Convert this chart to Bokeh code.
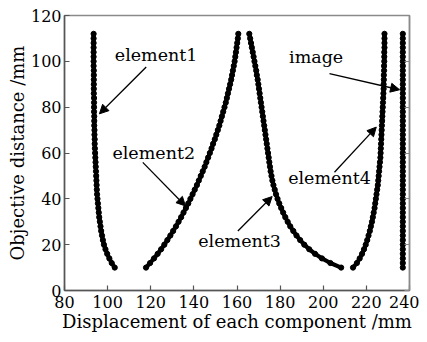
from bokeh.plotting import figure
from bokeh.models import (LinearAxis, Range1d, Arrow, NormalHead, Label,
                          FixedTicker, CustomJSTickFormatter)
from bokeh.embed import file_html
from bokeh.resources import INLINE

# ---------------- data ----------------
object_distance = [10, 12, 14, 16, 18, 20, 22, 24, 26, 28, 30, 32, 34, 36, 38, 40,
                   42, 44, 46, 48, 50, 52, 54, 56, 58, 60, 62, 64, 66, 68, 70, 72,
                   74, 76, 78, 80, 82, 84, 86, 88, 90, 92, 94, 96, 98, 100, 102,
                   104, 106, 108, 110, 112]

element1_x = [103.3, 101.9, 100.8, 99.8, 99.0, 98.3, 97.8, 97.4, 97.0, 96.7, 96.4,
              96.1, 95.9, 95.7, 95.5, 95.3, 95.1, 95.0, 94.9, 94.8, 94.7, 94.6,
              94.5, 94.4, 94.3, 94.2, 94.1, 94.0, 94.0, 93.9, 93.9, 93.8, 93.8,
              93.8, 93.7, 93.7, 93.7, 93.7, 93.6, 93.6, 93.6, 93.6, 93.6, 93.6,
              93.5, 93.5, 93.5, 93.5, 93.5, 93.5, 93.5, 93.5]

element2_x = [117.8, 119.7, 121.5, 123.2, 124.8, 126.3, 127.7, 129.1, 130.4, 131.7,
              132.9, 134.1, 135.2, 136.3, 137.4, 138.4, 139.4, 140.4, 141.4, 142.3,
              143.2, 144.1, 145.0, 145.8, 146.6, 147.4, 148.2, 148.9, 149.7, 150.4,
              151.1, 151.8, 152.4, 153.0, 153.6, 154.2, 154.8, 155.3, 155.8, 156.3,
              156.8, 157.3, 157.7, 158.1, 158.5, 158.9, 159.2, 159.5, 159.8, 160.1,
              160.4, 160.6]

element3_x = [208.3, 203.3, 199.4, 196.2, 193.5, 191.2, 189.3, 187.6, 186.1, 184.7,
              183.5, 182.4, 181.4, 180.5, 179.6, 178.8, 178.1, 177.5, 176.9, 176.4,
              176.0, 175.6, 175.3, 175.0, 174.7, 174.4, 174.1, 173.8, 173.5, 173.2,
              172.9, 172.6, 172.3, 172.0, 171.7, 171.4, 171.1, 170.8, 170.5, 170.2,
              169.9, 169.6, 169.2, 168.9, 168.5, 168.1, 167.7, 167.3, 166.9, 166.5,
              166.1, 165.7]

element4_x = [213.8, 215.6, 216.9, 218.0, 218.9, 219.7, 220.4, 221.0, 221.6, 222.1,
              222.6, 223.0, 223.4, 223.8, 224.1, 224.4, 224.7, 225.0, 225.3, 225.5,
              225.7, 225.9, 226.1, 226.3, 226.5, 226.6, 226.7, 226.8, 226.9, 227.0,
              227.1, 227.2, 227.3, 227.4, 227.5, 227.6, 227.7, 227.8, 227.9, 228.0,
              228.0, 228.1, 228.1, 228.2, 228.2, 228.3, 228.3, 228.3, 228.4, 228.4,
              228.4, 228.4]

image_x = [236.9, 236.9, 236.9, 236.9, 236.9, 236.9, 236.9, 236.9, 236.9, 236.9,
           236.9, 236.9, 236.9, 236.9, 236.9, 236.9, 236.9, 236.9, 236.9, 236.9,
           236.9, 236.9, 236.9, 236.9, 236.9, 236.9, 236.9, 236.9, 236.9, 236.9,
           236.9, 236.9, 236.9, 236.9, 236.9, 236.9, 236.9, 236.9, 236.9, 236.9,
           236.9, 236.9, 236.9, 236.9, 236.9, 236.9, 236.9, 236.9, 236.9, 236.9,
           236.9, 236.9]

x_ticks = [80, 100, 120, 140, 160, 180, 200, 220, 240]
y_ticks = [0, 20, 40, 60, 80, 100, 120]

FONT = "DejaVu Serif"

p = figure(width=419, height=334, x_range=Range1d(80, 240), y_range=Range1d(0, 120),
           output_backend="svg", toolbar_location=None,
           min_border_left=64, min_border_right=10, min_border_top=15,
           min_border_bottom=44)
p.grid.visible = False
p.outline_line_color = "#8a8a8a"
p.outline_line_width = 1.5
p.background_fill_color = "white"

for ax, ticks in ((p.xaxis[0], x_ticks), (p.yaxis[0], y_ticks)):
    ax.ticker = FixedTicker(ticks=ticks)
    ax.axis_line_color = "#555555"
    ax.axis_line_width = 1.5
    ax.major_tick_line_color = "#555555"
    ax.major_tick_line_width = 1.2
    ax.major_tick_in = 5
    ax.major_tick_out = 0
    ax.minor_tick_line_color = None
    ax.major_label_text_font = FONT
    ax.major_label_text_font_size = "16px"
    ax.major_label_text_color = "black"
    ax.axis_label_text_font = FONT
    ax.axis_label_text_font_size = "18px"
    ax.axis_label_text_font_style = "normal"
    ax.axis_label_text_color = "black"

p.xaxis.axis_label = "Displacement of each component /mm"
p.yaxis.axis_label = "Objective distance /mm"
p.xaxis.major_label_standoff = 5
p.xaxis.axis_label_standoff = 0
p.yaxis.major_label_standoff = 3
p.yaxis.axis_label_standoff = 0

right = LinearAxis(ticker=FixedTicker(ticks=y_ticks),
                   formatter=CustomJSTickFormatter(code="return ''"),
                   major_tick_in=5, major_tick_out=0, major_label_standoff=0,
                   axis_label_standoff=0, major_label_text_font_size="0px",
                   axis_label_text_font_size="0px",
                   axis_line_color="#8a8a8a", axis_line_width=1.5,
                   major_tick_line_color="#8a8a8a", minor_tick_line_color=None)
p.add_layout(right, "right")

for xs in (element1_x, element2_x, element3_x, element4_x, image_x):
    p.line(xs, object_distance, line_color="black", line_width=4.2,
           line_cap="round", line_join="round")
    p.scatter(xs, object_distance, marker="circle", size=5.2,
              fill_color="black", line_color="black")

labels = [("element1", 122.5, 102.6), ("element2", 121.4, 59.8),
          ("element3", 161.2, 21.8), ("element4", 202.9, 49.0),
          ("image", 196.7, 102.0)]
for txt, lx, ly in labels:
    p.add_layout(Label(x=lx, y=ly, text=txt, text_font=FONT,
                       text_font_size="17.5px", text_align="center",
                       text_baseline="middle", text_color="black"))

arrows = [(117.9, 97.5, 96.2, 77.1), (116.3, 55.9, 136.1, 36.9),
          (160.4, 26.0, 176.3, 41.0), (205.2, 51.6, 224.6, 71.3),
          (202.9, 94.6, 235.4, 87.6)]
for xs0, ys0, xe, ye in arrows:
    p.add_layout(Arrow(x_start=xs0, y_start=ys0, x_end=xe, y_end=ye,
                       line_color="black", line_width=1.3,
                       end=NormalHead(size=9, fill_color="black",
                                      line_color="black", line_width=1)))

open("out.html", "w").write(file_html(p, INLINE))
